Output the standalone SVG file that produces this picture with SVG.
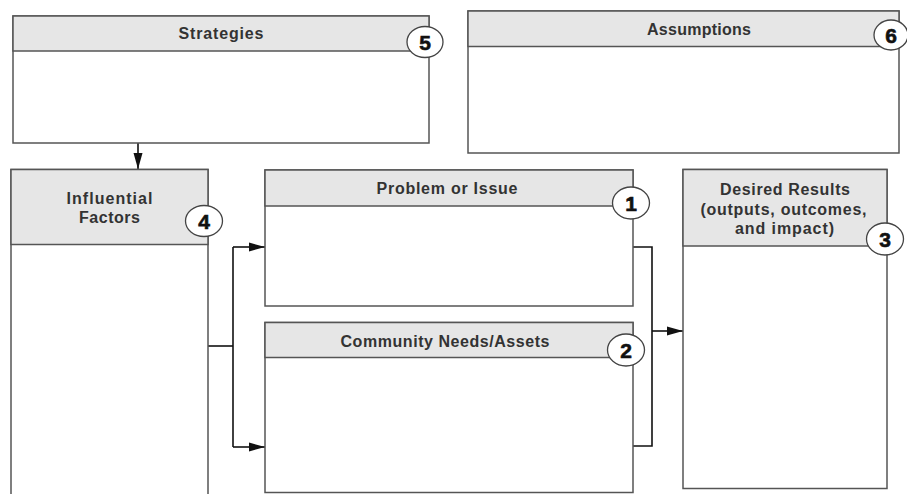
<svg xmlns="http://www.w3.org/2000/svg" width="907" height="494" viewBox="0 0 907 494">
<defs>
<marker id="ah" markerWidth="16" markerHeight="10" refX="16" refY="5" orient="auto" markerUnits="userSpaceOnUse">
<path d="M0,0.5 L16,5 L0,9.5 Z" fill="#111"/>
</marker>
<style>
.box{fill:#fff;stroke:#555;stroke-width:1.5}
.hdr{fill:#e6e6e6;stroke:#555;stroke-width:1.5}
.t{font-family:"Liberation Sans",Arial,sans-serif;font-weight:bold;font-size:16px;fill:#333;text-anchor:middle}
.badge{fill:#fff;stroke:#444;stroke-width:1.3}
.n{font-family:"Liberation Sans",Arial,sans-serif;font-weight:bold;font-size:21px;fill:#111;text-anchor:middle;stroke:#111;stroke-width:0.6}
.c{fill:none;stroke:#111;stroke-width:1.6}
</style>
</defs>
<rect width="907" height="494" fill="#fff"/>

<g id="connectors">
<path class="c" d="M138,143 V169" marker-end="url(#ah)"/>
<path class="c" d="M207,346 H233"/>
<path class="c" d="M233,247 V447"/>
<path class="c" d="M233,247 H265" marker-end="url(#ah)"/>
<path class="c" d="M233,447 H265" marker-end="url(#ah)"/>
<path class="c" d="M633,247 H652 V446 H633"/>
<path class="c" d="M652,331 H683" marker-end="url(#ah)"/>
</g>

<g id="strategies">
<rect class="box" x="13" y="16" width="416" height="127"/>
<rect class="hdr" x="13" y="16" width="416" height="35"/>
<text class="t" x="221" y="39" textLength="85" lengthAdjust="spacing">Strategies</text>
<ellipse class="badge" cx="425" cy="42" rx="18" ry="15.5"/>
<text class="n" x="425" y="49.5">5</text>
</g>

<g id="assumptions">
<rect class="box" x="468" y="11" width="431" height="142"/>
<rect class="hdr" x="468" y="11" width="431" height="35.5"/>
<text class="t" x="699" y="34.5" textLength="104" lengthAdjust="spacing">Assumptions</text>
<ellipse class="badge" cx="891" cy="35" rx="17" ry="15"/>
<text class="n" x="891" y="42.5">6</text>
</g>

<g id="influential">
<rect class="box" x="11" y="169.5" width="197" height="340"/>
<rect class="hdr" x="11" y="169.5" width="197" height="75"/>
<text class="t" x="109.5" y="203.5" textLength="86" lengthAdjust="spacing">Influential</text>
<text class="t" x="109.5" y="223" textLength="61" lengthAdjust="spacing">Factors</text>
<ellipse class="badge" cx="204" cy="221" rx="18.5" ry="15.5"/>
<text class="n" x="204" y="228.5">4</text>
</g>

<g id="problem">
<rect class="box" x="265" y="170" width="368" height="136"/>
<rect class="hdr" x="265" y="170" width="368" height="36"/>
<text class="t" x="447" y="193.5" textLength="141" lengthAdjust="spacing">Problem or Issue</text>
<ellipse class="badge" cx="631" cy="203" rx="18.5" ry="16"/>
<text class="n" x="631" y="210.5">1</text>
</g>

<g id="community">
<rect class="box" x="265" y="322.5" width="368" height="170"/>
<rect class="hdr" x="265" y="322.5" width="368" height="35"/>
<text class="t" x="445" y="346.5" textLength="209" lengthAdjust="spacing">Community Needs/Assets</text>
<ellipse class="badge" cx="626" cy="350" rx="18.5" ry="16"/>
<text class="n" x="626" y="357.5">2</text>
</g>

<g id="desired">
<rect class="box" x="683" y="169.5" width="204" height="319"/>
<rect class="hdr" x="683" y="169.5" width="204" height="76.5"/>
<text class="t" x="785" y="195" textLength="130" lengthAdjust="spacing">Desired Results</text>
<text class="t" x="783.5" y="215" textLength="166" lengthAdjust="spacing">(outputs, outcomes,</text>
<text class="t" x="784.5" y="233.5" textLength="99" lengthAdjust="spacing">and impact)</text>
<ellipse class="badge" cx="885" cy="239" rx="18.5" ry="16"/>
<text class="n" x="885" y="246.5">3</text>
</g>
</svg>
